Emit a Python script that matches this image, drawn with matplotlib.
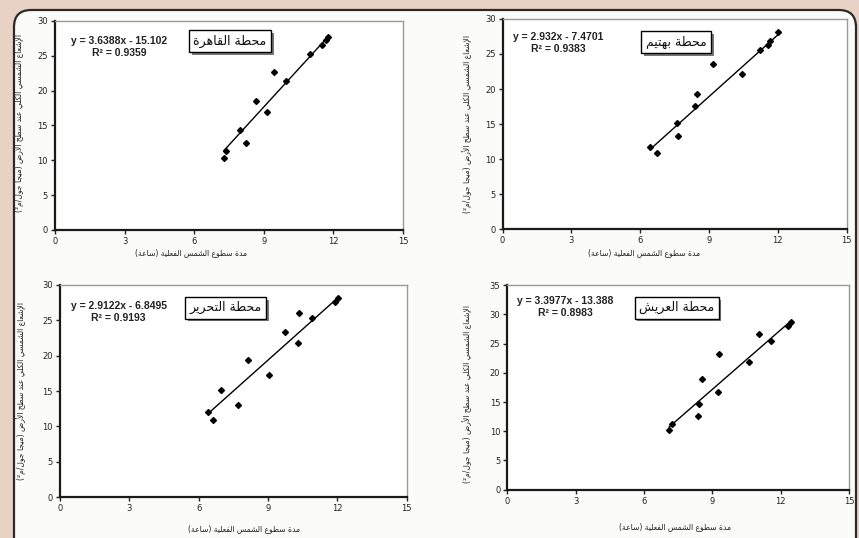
import numpy as np
import matplotlib
matplotlib.use('Agg')
import matplotlib.pyplot as plt
from matplotlib.patches import FancyBboxPatch
import matplotlib.patheffects as pe

# ---- datos (12 meses por estacion) ----
cairo_x = [7.28, 7.39, 7.99, 8.25, 8.65, 9.16, 9.44, 9.97, 10.98, 11.53, 11.67, 11.77]
cairo_y = [10.4, 11.4, 14.3, 12.5, 18.5, 16.9, 22.7, 21.4, 25.3, 26.5, 27.2, 27.7]

bahtim_x = [6.45, 6.74, 7.59, 7.66, 8.39, 8.46, 9.16, 10.42, 11.22, 11.58, 11.66, 12.02]
bahtim_y = [11.8, 10.9, 15.2, 13.3, 17.6, 19.3, 23.6, 22.2, 25.5, 26.3, 26.9, 28.1]

tahrir_x = [6.42, 6.61, 6.97, 7.69, 8.15, 9.06, 9.74, 10.29, 10.36, 10.89, 11.90, 12.05]
tahrir_y = [12.0, 10.95, 15.2, 13.0, 19.4, 17.2, 23.3, 21.8, 26.0, 25.3, 27.6, 28.2]

arish_x = [7.10, 7.21, 8.38, 8.42, 8.52, 9.25, 9.30, 10.61, 11.05, 11.59, 12.32, 12.44]
arish_y = [10.2, 11.25, 12.6, 14.6, 19.0, 16.7, 23.2, 21.8, 26.7, 25.5, 28.0, 28.7]

# ecuaciones de la linea de tendencia
slopes = [3.6388, 2.932, 2.9122, 3.3977]
intercepts = [-15.102, -7.4701, -6.8495, -13.388]
eq_texts = ['y = 3.6388x - 15.102\nR² = 0.9359',
            'y = 2.932x - 7.4701\nR² = 0.9383',
            'y = 2.9122x - 6.8495\nR² = 0.9193',
            'y = 3.3977x - 13.388\nR² = 0.8983']

titles = ['محطة القاهرة', 'محطة بهتيم', 'محطة التحرير', 'محطة العريش']
xlabel_txt = 'مدة سطوع الشمس الفعلية (ساعة)'
ylabel_txt = 'الإشعاع الشمسي الكلي عند سطح الأرض (ميجا جول/م²)'
x_ticks = [0, 3, 6, 9, 12, 15]
y_max = [30, 30, 30, 35]

# ---- formas de presentacion arabe (matplotlib no hace el "shaping") ----
FOUR = {'ئ': 0xFE89, 'ب': 0xFE8F, 'ت': 0xFE95, 'ث': 0xFE99, 'ج': 0xFE9D, 'ح': 0xFEA1,
        'خ': 0xFEA5, 'س': 0xFEB1, 'ش': 0xFEB5, 'ص': 0xFEB9, 'ض': 0xFEBD, 'ط': 0xFEC1,
        'ظ': 0xFEC5, 'ع': 0xFEC9, 'غ': 0xFECD, 'ف': 0xFED1, 'ق': 0xFED5, 'ك': 0xFED9,
        'ل': 0xFEDD, 'م': 0xFEE1, 'ن': 0xFEE5, 'ه': 0xFEE9, 'ي': 0xFEF1}
TWO = {'آ': 0xFE81, 'أ': 0xFE83, 'ؤ': 0xFE85, 'إ': 0xFE87, 'ا': 0xFE8D, 'ة': 0xFE93,
       'د': 0xFEA9, 'ذ': 0xFEAB, 'ر': 0xFEAD, 'ز': 0xFEAF, 'و': 0xFEED, 'ى': 0xFEEF}
LAMALEF = {'آ': 0xFEF5, 'أ': 0xFEF7, 'إ': 0xFEF9, 'ا': 0xFEFB}


def arabe(s):
    toks = []
    i = 0
    while i < len(s):
        c = s[i]
        if c == 'ل' and i + 1 < len(s) and s[i + 1] in LAMALEF:
            toks.append((LAMALEF[s[i + 1]], 2))
            i += 2
            continue
        if c in FOUR:
            toks.append((FOUR[c], 4))
        elif c in TWO:
            toks.append((TWO[c], 2))
        else:
            toks.append(c)
        i += 1
    out = []
    for k, t in enumerate(toks):
        if isinstance(t, str):
            out.append(t)
            continue
        code, n = t
        prev = toks[k - 1] if k > 0 else None
        nxt = toks[k + 1] if k + 1 < len(toks) else None
        jp = isinstance(prev, tuple) and prev[1] == 4
        jn = n == 4 and isinstance(nxt, tuple)
        if jp and jn:
            off = 3
        elif jp:
            off = 1
        elif jn:
            off = 2
        else:
            off = 0
        out.append(chr(code + off))
    espejo = {'(': ')', ')': '('}
    return ''.join(espejo.get(c, c) for c in reversed(out))


series = [(cairo_x, cairo_y), (bahtim_x, bahtim_y), (tahrir_x, tahrir_y), (arish_x, arish_y)]

# posiciones [left, bottom, width, height] en fraccion de figura
rects = [[0.064, 0.5725, 0.405, 0.3885],
         [0.585, 0.5738, 0.4005, 0.391],
         [0.0698, 0.0757, 0.4036, 0.395],
         [0.5906, 0.0898, 0.398, 0.38]]
title_pos = [(0.503, 0.904), (0.505, 0.89), (0.478, 0.892), (0.495, 0.89)]
eq_pos = [(0.184, 0.876), (0.162, 0.886), (0.169, 0.872), (0.169, 0.894)]
xlab_pos = [(0.39, -0.086), (0.41, -0.089), (0.53, -0.125), (0.49, -0.16)]
ylab_pos = [(-0.086, 0.51), (-0.086, 0.50), (-0.095, 0.50), (-0.10, 0.47)]

fig = plt.figure(figsize=(8.59, 5.38), dpi=100)
fig.patch.set_facecolor('#e8d1c5')

# panel blanco con esquinas redondeadas (la parte de abajo queda cortada)
panel = FancyBboxPatch((14 / 859, -0.2), 842 / 859, (538 - 10) / 538 + 0.2,
                       boxstyle='round,pad=0,rounding_size=0.02',
                       transform=fig.transFigure, facecolor='#fbfbf9',
                       edgecolor='#2a2a2a', linewidth=1.6, zorder=-10,
                       mutation_aspect=859 / 538)
fig.patches.append(panel)

for i in range(4):
    ax = fig.add_axes(rects[i])
    ax.set_facecolor('white')
    x, y = series[i]
    ax.plot(x, y, linestyle='none', marker='D', markersize=3, color='black', zorder=3)
    # linea de tendencia a partir de la ecuacion
    xl = np.array([min(x), max(x)])
    ax.plot(xl, slopes[i] * xl + intercepts[i], color='black', linewidth=1.0, zorder=2)

    ax.set_xlim(0, 15)
    ax.set_ylim(0, y_max[i])
    ax.set_xticks(x_ticks)
    ax.set_yticks(np.arange(0, y_max[i] + 1, 5))
    ax.tick_params(labelsize=6, length=3, width=1, direction='out', pad=2, colors='#222222')
    for s in ['left', 'bottom']:
        ax.spines[s].set_linewidth(1.6)
        ax.spines[s].set_color('#1a1a1a')
    for s in ['top', 'right']:
        ax.spines[s].set_linewidth(1.0)
        ax.spines[s].set_color('#9a9a9a')

    ax.set_xlabel(arabe(xlabel_txt), fontsize=5.5, family='DejaVu Sans', color='#222222')
    ax.xaxis.set_label_coords(*xlab_pos[i])
    ax.set_ylabel(arabe(ylabel_txt), fontsize=5.5, family='DejaVu Sans', color='#222222')
    ax.yaxis.set_label_coords(*ylab_pos[i])

    t = ax.text(title_pos[i][0], title_pos[i][1], arabe(titles[i]), transform=ax.transAxes,
                ha='center', va='center', fontsize=9, family='DejaVu Sans', color='#111111',
                bbox=dict(boxstyle='square,pad=0.35', facecolor='white', edgecolor='black',
                          linewidth=1.0), zorder=5)
    t.get_bbox_patch().set_path_effects([pe.withSimplePatchShadow(offset=(2, -2),
                                                                  shadow_rgbFace='#555555',
                                                                  alpha=0.8)])

    ax.text(eq_pos[i][0], eq_pos[i][1], eq_texts[i], transform=ax.transAxes,
            ha='center', va='center', fontsize=7.5, family='Liberation Sans',
            fontweight='bold', color='#222222', linespacing=1.3, multialignment='center')

fig.savefig('out.png', dpi=100, facecolor=fig.get_facecolor())
